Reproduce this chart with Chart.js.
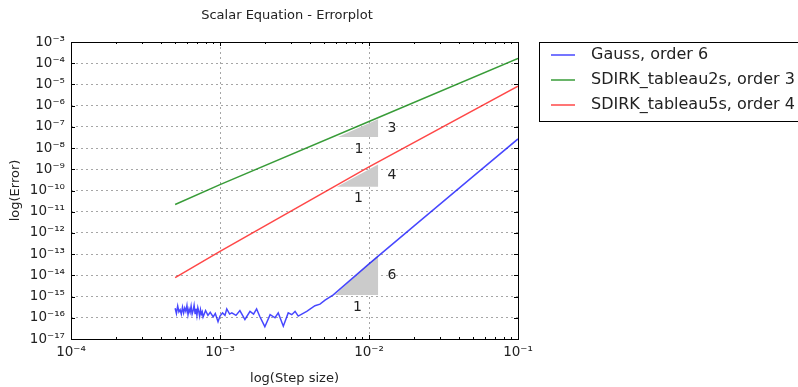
<!DOCTYPE html>
<html>
<head>
  <title>Scalar Equation - Errorplot</title>
  <script src="https://cdn.jsdelivr.net/npm/chart.js"></script>
  <style>
    body { margin: 0; background: #fff; }
    #errChart { display: block; }
  </style>
</head>
<body>
  <canvas id="errChart" width="798" height="387"></canvas>

  <script>
    // step sizes / errors
    const gaussSteps = [5.0e-4, 5.1e-4, 5.2e-4, 5.3e-4, 5.4e-4, 5.5e-4, 5.6e-4, 5.7e-4, 5.8e-4, 5.9e-4,
      6.0e-4, 6.1e-4, 6.2e-4, 6.3e-4, 6.4e-4, 6.5e-4, 6.6e-4, 6.7e-4, 6.8e-4, 6.9e-4,
      7.0e-4, 7.1e-4, 7.2e-4, 7.3e-4, 7.4e-4, 7.5e-4, 7.6e-4, 7.7e-4,
      8.0e-4, 8.3e-4, 8.6e-4, 9.0e-4, 9.3e-4, 9.7e-4, 1.0e-3, 1.04e-3, 1.08e-3, 1.11e-3,
      1.16e-3, 1.20e-3, 1.28e-3, 1.36e-3, 1.47e-3, 1.59e-3, 1.68e-3, 1.76e-3, 1.85e-3, 2.00e-3,
      2.17e-3, 2.34e-3, 2.46e-3, 2.66e-3, 2.87e-3, 3.03e-3, 3.19e-3, 3.35e-3, 3.82e-3, 4.34e-3,
      4.69e-3, 5.07e-3, 5.76e-3, 1.0e-2, 2.0e-2, 5.0e-2, 1.0e-1];
    const gaussErr = [2.8e-16, 1.6e-16, 3.6e-16, 1.9e-16, 2.4e-16, 1.5e-16, 3.2e-16, 1.7e-16, 2.9e-16, 2.0e-16,
      3.8e-16, 1.4e-16, 2.6e-16, 1.8e-16, 3.5e-16, 1.5e-16, 2.2e-16, 3.9e-16, 1.6e-16, 2.7e-16,
      1.3e-16, 3.0e-16, 2.0e-16, 1.2e-16, 2.4e-16, 1.5e-16, 1.9e-16, 1.1e-16,
      2.2e-16, 1.3e-16, 1.8e-16, 1.1e-16, 1.6e-16, 6.5e-17, 1.2e-16, 1.7e-16, 1.3e-16, 2.6e-16,
      1.5e-16, 1.7e-16, 1.3e-16, 2.2e-16, 8.3e-17, 2.0e-16, 1.5e-16, 2.6e-16, 1.15e-16, 3.8e-17,
      1.4e-16, 1.0e-16, 1.7e-16, 4.0e-17, 1.7e-16, 1.4e-16, 2.0e-16, 1.2e-16, 2.0e-16, 3.7e-16,
      4.4e-16, 6.8e-16, 1.2e-15, 3.5e-14, 2.1e-12, 4.6e-10, 2.7e-8];

    const tab2Steps = [5.0e-4, 1.0e-3, 1.0e-2, 1.0e-1];
    const tab2Err = [2.2e-11, 1.9e-10, 1.8e-7, 1.7e-4];

    const tab5Steps = [5.0e-4, 1.0e-3, 1.0e-2, 1.0e-1];
    const tab5Err = [7.8e-15, 1.35e-13, 1.3e-9, 8.3e-6];

    const seriesNames = ['Gauss, order 6', 'SDIRK_tableau2s, order 3', 'SDIRK_tableau5s, order 4'];
    const seriesColors = ['rgba(0,0,255,0.72)', 'rgba(0,128,0,0.78)', 'rgba(255,0,0,0.72)'];

    // slope triangles (green, red, blue)
    const triLeft = [6.2e-3, 6.1e-3, 5.9e-3];
    const triRight = [1.15e-2, 1.15e-2, 1.15e-2];
    const triBase = [3.3e-8, 1.5e-10, 1.2e-15];
    const triTop = [2.3e-7, 1.7e-9, 8.7e-14];
    const triOrder = ['3', '4', '6'];

    const xTicks = [1e-4, 1e-3, 1e-2, 1e-1];
    const xMinor = [2, 3, 4, 5, 6, 7, 8, 9];
    const yTicks = [1e-17, 1e-16, 1e-15, 1e-14, 1e-13, 1e-12, 1e-11, 1e-10,
      1e-9, 1e-8, 1e-7, 1e-6, 1e-5, 1e-4, 1e-3];

    const FONT = 'DejaVu Sans';

    function sup(v) {
      const map = { '-': '\u207B', '0': '\u2070', '1': '\u00B9', '2': '\u00B2', '3': '\u00B3',
        '4': '\u2074', '5': '\u2075', '6': '\u2076', '7': '\u2077', '8': '\u2078', '9': '\u2079' };
      const e = String(Math.round(Math.log10(v)));
      return '10' + e.split('').map(c => map[c]).join('');
    }

    function pts(xs, ys) {
      return xs.map((x, i) => ({ x: x, y: ys[i] }));
    }

    const extras = {
      id: 'extras',
      beforeDatasetsDraw(chart) {
        const ctx = chart.ctx, xs = chart.scales.x, ys = chart.scales.y;
        ctx.save();
        ctx.fillStyle = '#cbcbcb';
        for (let i = 0; i < triLeft.length; i++) {
          const x1 = xs.getPixelForValue(triLeft[i]);
          const x2 = xs.getPixelForValue(triRight[i]);
          const y1 = ys.getPixelForValue(triBase[i]);
          const y2 = ys.getPixelForValue(triTop[i]);
          ctx.beginPath();
          ctx.moveTo(x1, y1);
          ctx.lineTo(x2, y1);
          ctx.lineTo(x2, y2);
          ctx.closePath();
          ctx.fill();
        }
        ctx.restore();
      },
      afterDraw(chart) {
        const ctx = chart.ctx, xs = chart.scales.x, ys = chart.scales.y;
        const a = chart.chartArea;
        ctx.save();

        // triangle labels
        ctx.fillStyle = '#222';
        ctx.font = '14px ' + FONT;
        ctx.textAlign = 'center';
        ctx.textBaseline = 'middle';
        for (let i = 0; i < triLeft.length; i++) {
          const x1 = xs.getPixelForValue(triLeft[i]);
          const x2 = xs.getPixelForValue(triRight[i]);
          const y1 = ys.getPixelForValue(triBase[i]);
          const y2 = ys.getPixelForValue(triTop[i]);
          ctx.fillText(triOrder[i], x2 + 14, (y1 + y2) / 2);
          ctx.fillText('1', (x1 + x2) / 2 + 1, y1 + 12);
        }

        // frame
        ctx.strokeStyle = '#000';
        ctx.lineWidth = 1;
        ctx.strokeRect(Math.round(a.left) + 0.5, Math.round(a.top) + 0.5,
          Math.round(a.right - a.left), Math.round(a.bottom - a.top));

        // inward ticks
        ctx.beginPath();
        xTicks.forEach((t, k) => {
          const px = Math.round(xs.getPixelForValue(t)) + 0.5;
          ctx.moveTo(px, a.bottom); ctx.lineTo(px, a.bottom - 4);
          ctx.moveTo(px, a.top); ctx.lineTo(px, a.top + 4);
          if (k < xTicks.length - 1) {
            xMinor.forEach(m => {
              const q = Math.round(xs.getPixelForValue(t * m)) + 0.5;
              ctx.moveTo(q, a.bottom); ctx.lineTo(q, a.bottom - 2);
              ctx.moveTo(q, a.top); ctx.lineTo(q, a.top + 2);
            });
          }
        });
        yTicks.forEach(t => {
          const py = Math.round(ys.getPixelForValue(t)) + 0.5;
          ctx.moveTo(a.left, py); ctx.lineTo(a.left + 4, py);
          ctx.moveTo(a.right, py); ctx.lineTo(a.right - 4, py);
        });
        ctx.stroke();

        // title
        ctx.fillStyle = '#222';
        ctx.font = '13px ' + FONT;
        ctx.textAlign = 'center';
        ctx.textBaseline = 'middle';
        ctx.fillText('Scalar Equation - Errorplot', 287, 16);

        // legend (outside, right)
        ctx.strokeStyle = '#000';
        ctx.strokeRect(539.5, 42.5, 270, 79);
        ctx.font = '16px ' + FONT;
        ctx.textAlign = 'left';
        seriesNames.forEach((n, i) => {
          const y = 55 + i * 25;
          ctx.strokeStyle = seriesColors[i];
          ctx.lineWidth = 1.5;
          ctx.beginPath();
          ctx.moveTo(551, y); ctx.lineTo(575, y);
          ctx.stroke();
          ctx.fillStyle = '#222';
          ctx.fillText(n, 591, y);
        });
        ctx.restore();
      }
    };

    const gridOpts = {
      color: 'rgba(0,0,0,0.35)',
      lineWidth: 1,
      drawTicks: false
    };

    new Chart(document.getElementById('errChart'), {
      type: 'scatter',
      data: {
        datasets: [
          { label: seriesNames[0], data: pts(gaussSteps, gaussErr) },
          { label: seriesNames[1], data: pts(tab2Steps, tab2Err) },
          { label: seriesNames[2], data: pts(tab5Steps, tab5Err) }
        ].map((d, i) => Object.assign(d, {
          showLine: true, pointRadius: 0, borderColor: seriesColors[i],
          borderWidth: 1.5, tension: 0, fill: false
        }))
      },
      options: {
        responsive: false,
        animation: false,
        layout: { padding: { top: 42, right: 280, left: 0, bottom: 0 } },
        plugins: { legend: { display: false }, tooltip: { enabled: false } },
        scales: {
          x: {
            type: 'logarithmic', min: 1e-4, max: 1e-1,
            afterBuildTicks: s => { s.ticks = xTicks.map(v => ({ value: v, major: true })); },
            afterFit: s => { s.height = 48; },
            grid: gridOpts,
            border: { display: false, dash: [2, 3] },
            ticks: { padding: 5, maxRotation: 0, autoSkip: false, color: '#222',
              font: { family: FONT, size: 13.5 }, callback: v => sup(v) },
            title: { display: true, text: 'log(Step size)', color: '#222',
              font: { family: FONT, size: 13 }, padding: { top: 0, bottom: 1 } }
          },
          y: {
            type: 'logarithmic', min: 1e-17, max: 1e-3,
            afterBuildTicks: s => { s.ticks = yTicks.map(v => ({ value: v, major: true })); },
            afterFit: s => { s.width = 71; },
            grid: gridOpts,
            border: { display: false, dash: [2, 3] },
            ticks: { padding: 6, autoSkip: false, color: '#222',
              font: { family: FONT, size: 13.5 }, callback: v => sup(v) },
            title: { display: true, text: 'log(Error)', color: '#222',
              font: { family: FONT, size: 13 }, padding: { top: 8, bottom: 0 } }
          }
        }
      },
      plugins: [extras]
    });
  </script>
</body>
</html>
